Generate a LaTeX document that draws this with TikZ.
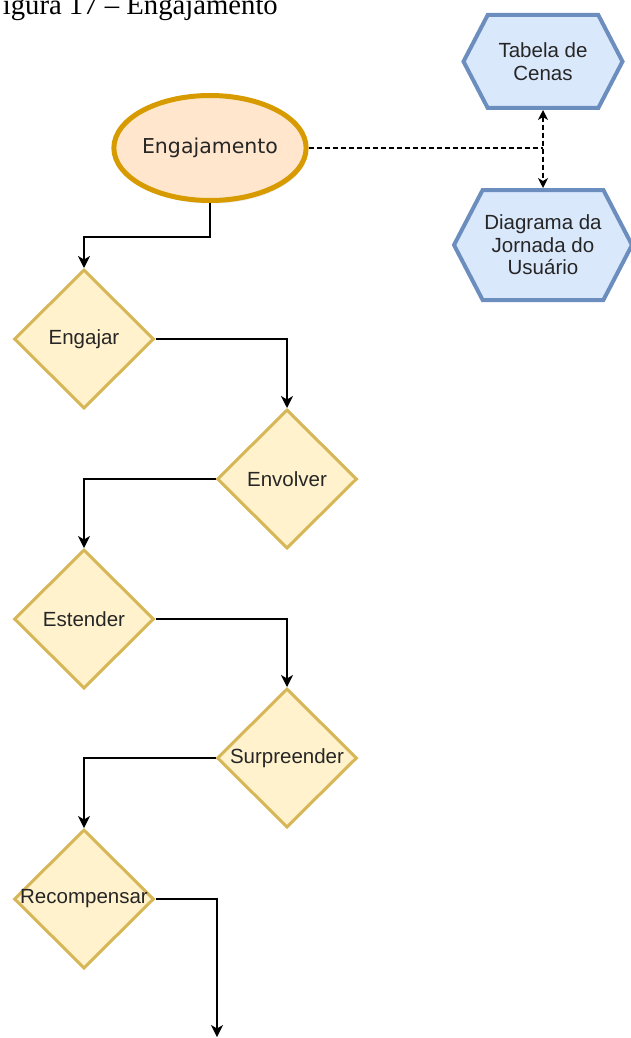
\documentclass[tikz,border=0pt]{standalone}
\usepackage{fontspec}
\setmainfont{Liberation Serif}
\newfontfamily\boxfont{Liberation Sans}
\newfontfamily\ovalfont{DejaVu Sans}
\usetikzlibrary{shapes.geometric,shapes.symbols,arrows.meta,shadows}

\definecolor{ovalline}{HTML}{D79B00}
\definecolor{ovalfill}{HTML}{FFE6CC}
\definecolor{stepline}{HTML}{D6B656}
\definecolor{stepfill}{HTML}{FFF2CC}
\definecolor{hexline}{HTML}{6C8EBF}
\definecolor{hexfill}{HTML}{DAE8FC}
\definecolor{ink}{HTML}{262626}

\tikzset{
  oval/.style={ellipse, draw=ovalline, fill=ovalfill, line width=5pt,
    minimum width=180pt, minimum height=105pt, inner sep=0pt,
    text=ink, font=\ovalfont\fontsize{20.5pt}{24pt}\selectfont,
    drop shadow={opacity=0.18, shadow xshift=1.5pt, shadow yshift=-3pt}},
  stepbox/.style={diamond, aspect=1, draw=stepline, fill=stepfill, line width=3pt,
    minimum width=140pt, minimum height=139pt, inner sep=0pt,
    text=ink, font=\boxfont\fontsize{20.5pt}{24pt}\selectfont},
  hexbox/.style={signal, signal to=west and east, signal pointer angle=125,
    draw=hexline, fill=hexfill, line width=4pt, inner sep=0pt,
    align=center, text=ink, font=\boxfont\fontsize{20.5pt}{22.5pt}\selectfont},
  flow/.style={line width=1.4pt, -{Stealth[length=12pt,width=12pt,inset=3.5pt]}},
  link/.style={line width=1.3pt, dash pattern=on 5pt off 3pt},
  bilink/.style={link, {Stealth[length=10pt,width=10pt,inset=3pt]}-{Stealth[length=10pt,width=10pt,inset=3pt]}}
}

\newcommand{\steplabel}[1]{\makebox[0pt]{#1}}

\begin{document}
\begin{tikzpicture}[x=1pt,y=-1pt]
  \useasboundingbox (0,0) rectangle (630,1038);

  % caption line
  \node[anchor=base east, inner sep=0pt, font=\fontsize{28.7pt}{32pt}\selectfont]
    (caption) at (278,15) {Figura 17 -- Engajamento};

  % main oval
  \node[oval] (eng) at (210,148) {Engajamento};

  % related artefacts
  \node[hexbox, minimum width=159pt, minimum height=93pt] (tab) at (543,61.5)
    {Tabela de\\Cenas};
  \node[hexbox, minimum width=178pt, minimum height=110pt] (jor) at (543,245)
    {Diagrama da\\Jornada do\\Usuário};

  % steps
  \node[stepbox] (s1) at (84,339)  {\steplabel{Engajar}};
  \node[stepbox] (s2) at (287,479) {\steplabel{Envolver}};
  \node[stepbox] (s3) at (84,619)  {\steplabel{Estender}};
  \node[stepbox] (s4) at (287,758) {\steplabel{Surpreender}};
  \node[stepbox] (s5) at (84,899)  {\steplabel{Recompensar}};

  \coordinate (split) at (543,148);
  \coordinate (drop) at (210,237);
  \coordinate (tail) at (217,1037);

  % dashed links to the artefacts
  \draw[link] (eng.east) -- (split);
  \draw[bilink] (tab.south) -- (jor.north);

  % flow between the steps
  \draw[flow] (eng.south) -- (drop) -| (s1.north);
  \draw[flow] (s1.east) -| (s2.north);
  \draw[flow] (s2.west) -| (s3.north);
  \draw[flow] (s3.east) -| (s4.north);
  \draw[flow] (s4.west) -| (s5.north);
  \draw[flow] (s5.east) -| (tail);
\end{tikzpicture}
\end{document}
